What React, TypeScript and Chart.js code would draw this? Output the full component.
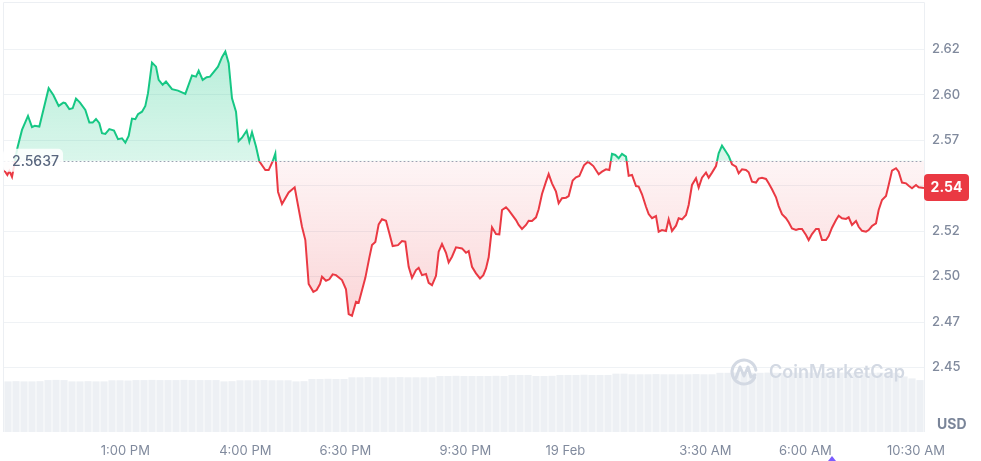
import React, { useEffect, useRef } from "react";
import { Chart, registerables } from "chart.js";

Chart.register(...registerables);

// time in minutes since 00:00 on 18 Feb
const priceTimes = [
  598, 603, 606, 610, 618, 625, 634, 640, 644, 651,
  665, 672, 680, 687, 690, 696, 701, 706, 712, 720,
  726, 731, 736, 741, 745, 750, 756, 763, 769, 775,
  780, 785, 790, 795, 799, 805, 810, 814, 820, 826,
  830, 836, 841, 850, 859, 870, 880, 886, 890, 896,
  902, 907, 919, 925, 930, 935, 940, 946, 950, 955,
  962, 966, 970, 976, 981, 990, 995, 1001, 1005, 1009,
  1015, 1025, 1034, 1045, 1050, 1055, 1062, 1067, 1072, 1075,
  1081, 1086, 1091, 1096, 1105, 1111, 1115, 1120, 1126, 1130,
  1140, 1146, 1150, 1155, 1160, 1165, 1171, 1176, 1181, 1189,
  1195, 1200, 1205, 1210, 1216, 1220, 1225, 1231, 1235, 1240,
  1246, 1250, 1255, 1261, 1265, 1270, 1276, 1285, 1291, 1295,
  1300, 1306, 1312, 1317, 1321, 1325, 1330, 1336, 1341, 1345,
  1351, 1355, 1366, 1370, 1375, 1381, 1385, 1390, 1396, 1400,
  1405, 1411, 1415, 1420, 1426, 1430, 1435, 1441, 1445, 1451,
  1456, 1461, 1468, 1474, 1482, 1490, 1495, 1501, 1506, 1510,
  1515, 1520, 1525, 1531, 1535, 1540, 1546, 1550, 1555, 1561,
  1565, 1570, 1576, 1580, 1585, 1591, 1595, 1600, 1606, 1610,
  1615, 1621, 1625, 1630, 1636, 1640, 1645, 1651, 1655, 1660,
  1666, 1670, 1675, 1681, 1685, 1690, 1696, 1700, 1705, 1711,
  1715, 1720, 1726, 1730, 1735, 1741, 1745, 1750, 1756, 1760,
  1765, 1771, 1775, 1780, 1786, 1790, 1795, 1801, 1805, 1810,
  1816, 1820, 1825, 1831, 1835, 1840, 1846, 1850, 1855, 1861,
  1865, 1870, 1876, 1880, 1885, 1891, 1895, 1900, 1906, 1910,
  1915, 1921, 1925, 1930, 1936, 1940, 1945, 1951, 1955, 1960,
  1966, 1970, 1978,
];

const priceValues = [
  2.5586, 2.5559, 2.5581, 2.5548, 2.5706, 2.5807, 2.5884, 2.5822, 2.5829, 2.5825,
  2.6036, 2.5999, 2.5939, 2.5957, 2.5954, 2.5921, 2.5926, 2.5979, 2.5957, 2.5917,
  2.5847, 2.5847, 2.5867, 2.5844, 2.5789, 2.5785, 2.5811, 2.5803, 2.5756, 2.5761,
  2.5737, 2.5774, 2.5869, 2.5866, 2.5893, 2.5907, 2.5939, 2.6009, 2.6177, 2.6155,
  2.6082, 2.6055, 2.6073, 2.6031, 2.6023, 2.6005, 2.6106, 2.6100, 2.6133, 2.6082,
  2.6097, 2.6100, 2.6155, 2.6207, 2.6238, 2.6174, 2.5981, 2.5907, 2.5746, 2.5764,
  2.5803, 2.5742, 2.5794, 2.5715, 2.5634, 2.5586, 2.5586, 2.5634, 2.5677, 2.5467,
  2.5399, 2.5463, 2.5491, 2.5274, 2.5201, 2.4959, 2.4916, 2.4926, 2.4959, 2.4999,
  2.4977, 2.4985, 2.5012, 2.5008, 2.4981, 2.4930, 2.4794, 2.4784, 2.4861, 2.4856,
  2.4993, 2.5104, 2.5173, 2.5190, 2.5287, 2.5315, 2.5307, 2.5238, 2.5168, 2.5173,
  2.5195, 2.5192, 2.5054, 2.4993, 2.5036, 2.5048, 2.5008, 2.5014, 2.4966, 2.4953,
  2.5004, 2.5137, 2.5179, 2.5131, 2.5078, 2.5109, 2.5161, 2.5155, 2.5131, 2.5140,
  2.5054, 2.5018, 2.4990, 2.5008, 2.5045, 2.5106, 2.5271, 2.5234, 2.5232, 2.5366,
  2.5381, 2.5366, 2.5311, 2.5284, 2.5262, 2.5284, 2.5307, 2.5306, 2.5326, 2.5370,
  2.5454, 2.5522, 2.5564, 2.5513, 2.5467, 2.5403, 2.5431, 2.5434, 2.5443, 2.5529,
  2.5546, 2.5553, 2.5612, 2.5632, 2.5608, 2.5563, 2.5577, 2.5590, 2.5586, 2.5675,
  2.5669, 2.5651, 2.5675, 2.5660, 2.5555, 2.5559, 2.5498, 2.5495, 2.5453, 2.5384,
  2.5344, 2.5321, 2.5333, 2.5247, 2.5256, 2.5251, 2.5315, 2.5251, 2.5280, 2.5321,
  2.5315, 2.5339, 2.5394, 2.5504, 2.5541, 2.5489, 2.5544, 2.5572, 2.5544, 2.5572,
  2.5608, 2.5678, 2.5720, 2.5687, 2.5664, 2.5618, 2.5605, 2.5568, 2.5590, 2.5586,
  2.5574, 2.5522, 2.5517, 2.5539, 2.5544, 2.5537, 2.5513, 2.5480, 2.5436, 2.5388,
  2.5343, 2.5321, 2.5299, 2.5265, 2.5256, 2.5262, 2.5262, 2.5229, 2.5201, 2.5234,
  2.5262, 2.5262, 2.5201, 2.5201, 2.5223, 2.5269, 2.5311, 2.5335, 2.5321, 2.5317,
  2.5326, 2.5284, 2.5306, 2.5274, 2.5252, 2.5247, 2.5256, 2.5278, 2.5293, 2.5366,
  2.5421, 2.5443, 2.5504, 2.5583, 2.5596, 2.5577, 2.5517, 2.5513, 2.5500, 2.5486,
  2.5504, 2.5491, 2.5487,
];

const referencePrice = 2.5637;

// volume bars: one every 12 minutes, starting at 10:04
const volumeStart = 604;
const volumeStep = 12;
const volumeValues = [
  11.8, 11.85, 11.8, 11.8, 11.85,
  12.1, 12.15, 12.1,
  11.8, 11.8, 11.85, 11.8, 11.8,
  12.05, 12.05, 12.0,
  12.1, 12.1, 12.15, 12.1, 12.1, 12.1, 12.15, 12.1, 12.1, 12.1, 12.1,
  11.8, 11.85,
  12.05, 12.05, 12.05, 12.1, 12.05, 12.05, 12.05,
  11.8, 11.85,
  12.35, 12.35, 12.4, 12.35, 12.35,
  12.75, 12.75, 12.8, 12.75, 12.75, 12.75, 12.8, 12.75, 12.75, 12.75, 12.75,
  13.05, 13.05, 13.1, 13.05, 13.05, 13.05, 13.05, 13.1, 13.05,
  13.3, 13.3, 13.3,
  13.05, 13.05, 13.1,
  13.3, 13.3, 13.3, 13.35, 13.3, 13.3, 13.3,
  13.6, 13.6,
  13.45, 13.45, 13.45, 13.5, 13.45, 13.45, 13.45, 13.45, 13.5, 13.45, 13.45,
  13.8, 13.8, 13.85, 13.8, 13.8, 13.8, 13.85, 13.8, 13.8, 13.8, 13.8, 13.85,
  13.8, 13.8, 13.8, 13.85, 13.8, 13.8, 13.8, 13.8, 13.85, 13.8, 13.8,
  12.95, 12.5, 12.1,
];

const xTickValues = [780, 960, 1110, 1290, 1440, 1650, 1800, 1966];
const xTickLabels = ["1:00 PM", "4:00 PM", "6:30 PM", "9:30 PM", "19 Feb", "3:30 AM", "6:00 AM", "10:30 AM"];

const yTickValues = [2.45, 2.475, 2.5, 2.525, 2.55, 2.575, 2.6, 2.625];
const yTickLabels = ["2.45", "2.47", "2.50", "2.52", "2.55", "2.57", "2.60", "2.62"];

const eventMarkerTime = 1840;

const GREEN = "#16c784";
const RED = "#ea3943";
const FONT = "Inter, 'Noto Sans', sans-serif";

function baseFrac(chart: any) {
  const a = chart.chartArea;
  const yb = chart.scales.y.getPixelForValue(referencePrice);
  return Math.min(1, Math.max(0, (yb - a.top) / (a.bottom - a.top)));
}

const decorPlugin = {
  id: "decor",
  beforeDatasetsDraw(chart: any) {
    const { ctx, chartArea: a } = chart;
    ctx.save();
    ctx.strokeStyle = "#eceff3";
    ctx.lineWidth = 1;
    ctx.beginPath();
    ctx.moveTo(a.left - 0.5, a.bottom);
    ctx.lineTo(a.left - 0.5, a.top - 0.5);
    ctx.lineTo(a.right + 0.5, a.top - 0.5);
    ctx.lineTo(a.right + 0.5, a.bottom);
    ctx.stroke();
    ctx.restore();
  },
  afterDatasetsDraw(chart: any) {
    const { ctx, chartArea: a, scales } = chart;
    const yb = scales.y.getPixelForValue(referencePrice);
    ctx.save();

    // watermark
    const wx = a.right - 180;
    const wy = a.bottom - 60;
    ctx.strokeStyle = "#d3d9e3";
    ctx.lineWidth = 3;
    ctx.lineCap = "round";
    ctx.lineJoin = "round";
    ctx.beginPath();
    ctx.arc(wx, wy, 12, Math.PI * 0.15, Math.PI * 1.95);
    ctx.stroke();
    ctx.beginPath();
    ctx.moveTo(wx - 8, wy + 6);
    ctx.lineTo(wx - 4, wy - 5);
    ctx.lineTo(wx, wy + 4);
    ctx.lineTo(wx + 4, wy - 5);
    ctx.lineTo(wx + 7, wy + 5);
    ctx.lineTo(wx + 11, wy + 3);
    ctx.stroke();
    ctx.fillStyle = "#d3d9e3";
    ctx.font = `600 18px ${FONT}`;
    ctx.textBaseline = "middle";
    ctx.textAlign = "left";
    ctx.fillText("CoinMarketCap", wx + 25, wy + 1);

    // dotted reference line
    ctx.strokeStyle = "#9aa3b2";
    ctx.lineWidth = 1;
    ctx.setLineDash([1, 3]);
    ctx.beginPath();
    ctx.moveTo(a.left, Math.round(yb) + 0.5);
    ctx.lineTo(a.right, Math.round(yb) + 0.5);
    ctx.stroke();
    ctx.setLineDash([]);

    // reference price label
    ctx.fillStyle = "rgba(255,255,255,0.85)";
    ctx.beginPath();
    (ctx as any).roundRect(a.left - 1, yb - 12, 60, 23, 5);
    ctx.fill();
    ctx.fillStyle = "#58667e";
    ctx.font = `500 14px ${FONT}`;
    ctx.textBaseline = "middle";
    ctx.textAlign = "left";
    ctx.fillText(referencePrice.toFixed(4), a.left + 8, yb + 1);
    ctx.restore();
  },
  afterDraw(chart: any) {
    const { ctx, chartArea: a, scales } = chart;
    ctx.save();
    const last = priceValues[priceValues.length - 1];
    const yl = scales.y.getPixelForValue(last);
    ctx.fillStyle = RED;
    ctx.beginPath();
    (ctx as any).roundRect(a.right, yl - 14, 45, 27, 4);
    ctx.fill();
    ctx.fillStyle = "#ffffff";
    ctx.font = `700 14px ${FONT}`;
    ctx.textAlign = "center";
    ctx.textBaseline = "middle";
    ctx.fillText((Math.floor(last * 100) / 100).toFixed(2), a.right + 22.5, yl);

    ctx.fillStyle = "#7a8599";
    ctx.font = `700 14px ${FONT}`;
    ctx.textAlign = "left";
    ctx.fillText("USD", a.right + 13, a.bottom - 7);

    const mx = scales.x.getPixelForValue(eventMarkerTime);
    ctx.fillStyle = "#7b5cff";
    ctx.beginPath();
    ctx.moveTo(mx, chart.height - 5);
    ctx.lineTo(mx + 4, chart.height);
    ctx.lineTo(mx - 4, chart.height);
    ctx.closePath();
    ctx.fill();
    ctx.restore();
  },
};

export default function App() {
  const ref = useRef<HTMLCanvasElement | null>(null);

  useEffect(() => {
    document.body.style.margin = "0";
    const canvas = ref.current;
    if (!canvas) return;

    const chart = new Chart(canvas, {
      type: "line",
      data: {
        datasets: [
          {
            type: "line",
            data: priceTimes.map((t, i) => ({ x: t, y: priceValues[i] })),
            yAxisID: "y",
            xAxisID: "x",
            borderWidth: 2,
            pointRadius: 0,
            tension: 0,
            order: 1,
            fill: { value: referencePrice },
            borderColor: (c: any) => {
              const chart = c.chart;
              const a = chart.chartArea;
              if (!a) return RED;
              const f = baseFrac(chart);
              const g = chart.ctx.createLinearGradient(0, a.top, 0, a.bottom);
              g.addColorStop(0, GREEN);
              g.addColorStop(f, GREEN);
              g.addColorStop(f, RED);
              g.addColorStop(1, RED);
              return g;
            },
            backgroundColor: (c: any) => {
              const chart = c.chart;
              const a = chart.chartArea;
              if (!a) return "transparent";
              const f = baseFrac(chart);
              const g = chart.ctx.createLinearGradient(0, a.top, 0, a.bottom);
              g.addColorStop(0, "rgba(22,199,132,0.36)");
              g.addColorStop(f, "rgba(22,199,132,0.16)");
              g.addColorStop(f, "rgba(234,57,67,0.05)");
              g.addColorStop(1, "rgba(234,57,67,0.33)");
              return g;
            },
          } as any,
          {
            type: "bar",
            data: volumeValues.map((v, i) => ({ x: volumeStart + i * volumeStep, y: v })),
            yAxisID: "yv",
            xAxisID: "x",
            backgroundColor: "#edf0f4",
            barPercentage: 0.9,
            categoryPercentage: 1,
            order: 2,
          } as any,
        ],
      },
      options: {
        animation: false,
        responsive: false,
        maintainAspectRatio: false,
        events: [],
        layout: { padding: { left: 4, top: 3, right: 0, bottom: 0 } },
        plugins: { legend: { display: false }, tooltip: { enabled: false } },
        scales: {
          x: {
            type: "linear",
            min: 598,
            max: 1978,
            offset: false,
            grid: { display: false, drawTicks: false },
            border: { display: false },
            afterBuildTicks: (s: any) => {
              s.ticks = xTickValues.map((v) => ({ value: v }));
            },
            afterFit: (s: any) => {
              s.height = 29;
              s.paddingLeft = 0;
              s.paddingRight = 0;
            },
            ticks: {
              autoSkip: false,
              maxRotation: 0,
              padding: 11,
              color: "#808a9d",
              font: { family: FONT, size: 13, weight: 400 as any },
              callback: (v: any) => {
                const i = xTickValues.indexOf(Number(v));
                return i >= 0 ? xTickLabels[i] : "";
              },
            },
          },
          y: {
            position: "right",
            min: 2.4145,
            max: 2.6505,
            grid: { color: "#eff2f5", drawTicks: false },
            border: { display: false },
            afterBuildTicks: (s: any) => {
              s.ticks = yTickValues.map((v) => ({ value: v }));
            },
            afterFit: (s: any) => {
              s.width = 57;
              s.paddingTop = 0;
              s.paddingBottom = 0;
            },
            ticks: {
              autoSkip: false,
              padding: 8,
              color: "#808a9d",
              font: { family: FONT, size: 13, weight: 500 as any },
              callback: (v: any) => {
                const i = yTickValues.findIndex((t) => Math.abs(t - Number(v)) < 1e-9);
                return i >= 0 ? yTickLabels[i] : "";
              },
            },
          },
          yv: {
            display: false,
            min: 0,
            max: 100,
          },
        },
      },
      plugins: [decorPlugin],
    } as any);

    return () => chart.destroy();
  }, []);

  return (
    <div style={{ width: 981, height: 461, background: "#ffffff" }}>
      <canvas ref={ref} width={981} height={461} style={{ display: "block" }} />
    </div>
  );
}
